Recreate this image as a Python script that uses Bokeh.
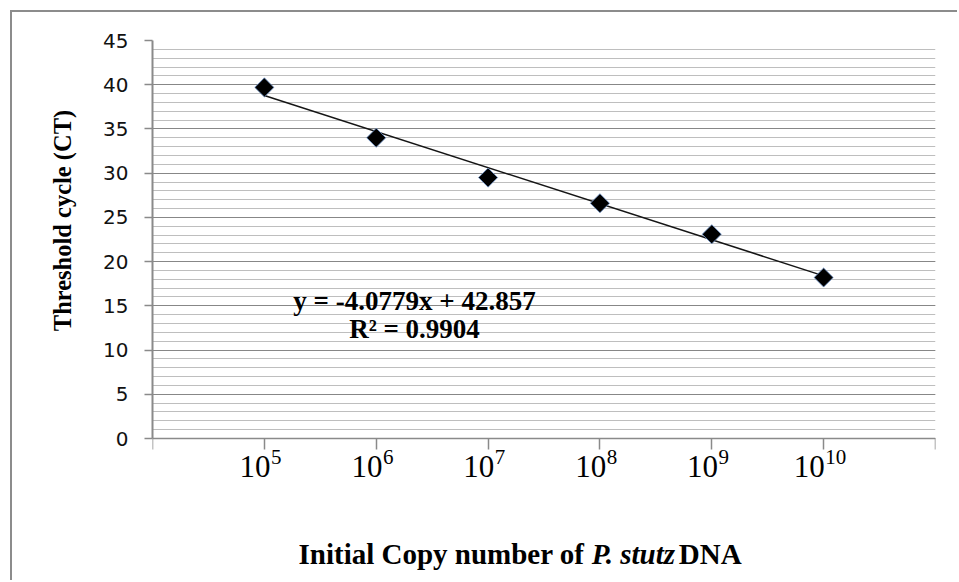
import numpy as np
from bokeh.plotting import figure
from bokeh.models import (Range1d, SingleIntervalTicker, FixedTicker, Label, LabelSet,
                          ColumnDataSource)
from bokeh.embed import file_html
from bokeh.resources import INLINE

# Initial copy number (powers of ten) and measured threshold cycles
exponents = [5, 6, 7, 8, 9, 10]
ct_values = [39.7, 34.0, 29.5, 26.6, 23.1, 18.2]

# Linear trendline on the category index (1..6)
slope = -4.0779
intercept = 42.857
r_squared = 0.9904

y_tick_step = 5
y_max = 45

# Page geometry (pixels on the page)
PAGE_W, PAGE_H = 959, 582
OFFSET = 12                       # chart border margin at left/top
LEFT, RIGHT, TOP, ZERO_ROW = 152, 935, 40, 438
FRAME_BOTTOM = 571                # frame runs below the x axis to hold its labels
X_MAX = 7

PX_PER_X = (RIGHT - LEFT) / X_MAX
PX_PER_Y = (ZERO_ROW - TOP) / y_max


def dx(px):
    """Page pixel column -> data x."""
    return (px - LEFT) / PX_PER_X


def dy(py):
    """Page pixel row -> data y."""
    return (ZERO_ROW - py) / PX_PER_Y


SERIF = "Liberation Serif"
GRID_MAJOR = "#878787"
GRID_MINOR = "#bebebe"
AXIS = "#8a8a8a"

p = figure(width=PAGE_W - OFFSET, height=PAGE_H - OFFSET,
           output_backend="svg", toolbar_location=None,
           x_range=Range1d(0, X_MAX), y_range=Range1d(dy(FRAME_BOTTOM), y_max),
           min_border_left=LEFT - OFFSET, min_border_right=PAGE_W - RIGHT,
           min_border_top=TOP - OFFSET, min_border_bottom=PAGE_H - FRAME_BOTTOM)
p.outline_line_color = None
p.background_fill_color = "white"
p.border_fill_color = "white"
# thin grey chart-area edge on the left and top
p.styles = {"margin-left": f"{OFFSET}px", "margin-top": f"{OFFSET}px",
            "box-shadow": "-2px -2px 0 0 #8c8c8c"}

# y axis and horizontal grid (major every 5, minor every 1), limited to 0..45
yticker = SingleIntervalTicker(interval=y_tick_step, num_minor_ticks=5)
p.yaxis.ticker = yticker
p.yaxis.bounds = (0, y_max)
p.ygrid.ticker = yticker
p.ygrid.bounds = (0, y_max)
p.ygrid.grid_line_color = GRID_MAJOR
p.ygrid.grid_line_width = 1
p.ygrid.minor_grid_line_color = GRID_MINOR
p.ygrid.minor_grid_line_width = 1
p.xgrid.grid_line_color = None

p.yaxis.axis_line_color = AXIS
p.yaxis.axis_line_width = 2
p.yaxis.major_tick_line_color = AXIS
p.yaxis.major_tick_line_width = 1.5
p.yaxis.major_tick_out = 8
p.yaxis.major_tick_in = 0
p.yaxis.minor_tick_line_color = None
p.yaxis.major_label_standoff = 16
p.yaxis.major_label_text_font = "DejaVu Sans"
p.yaxis.major_label_text_font_size = "20px"
p.yaxis.major_label_text_color = "#111111"

# x axis sits at y = 0, one tick per category slot; 10^n labels drawn below it
idx = np.arange(1, len(exponents) + 1)
n_slots = len(exponents) + 2
p.xaxis.fixed_location = 0
p.xaxis.ticker = FixedTicker(ticks=list(range(n_slots)))
p.xaxis.major_label_overrides = {i: "" for i in range(n_slots)}
p.xaxis.major_label_text_font_size = "1px"
p.xaxis.major_label_standoff = 0
p.xaxis.axis_line_color = AXIS
p.xaxis.axis_line_width = 1.5
p.xaxis.major_tick_line_color = AXIS
p.xaxis.major_tick_line_width = 1.5
p.xaxis.major_tick_out = 11
p.xaxis.major_tick_in = 0
p.xaxis.minor_tick_line_color = None

# trendline from the fitted coefficients
x_fit = np.array([idx[0], idx[-1]], dtype=float)
p.line(x_fit, slope * x_fit + intercept, line_color="#151515", line_width=1.5)

# data points as diamonds
p.scatter(idx, ct_values, marker="square", angle=np.pi / 4, size=13.5,
          fill_color="black", line_color="#6d93c9", line_width=0.8)

# 10^n tick labels: base "10" and a raised exponent
BASE_SIZE, EXP_SIZE = 31, 21
exp_text = [str(e) for e in exponents]
group_w = [BASE_SIZE + 0.5 * EXP_SIZE * len(t) for t in exp_text]
base_dx = [BASE_SIZE - w / 2 - 4 for w in group_w]     # right edge of "10"
tick_src = ColumnDataSource(dict(x=idx, base=["10"] * len(idx), exp=exp_text,
                                 base_dx=base_dx, exp_dx=[d + 0.5 for d in base_dx]))
p.add_layout(LabelSet(x="x", y=dy(476), text="base", source=tick_src,
                      x_offset="base_dx", text_align="right", text_baseline="alphabetic",
                      text_font=SERIF, text_font_size=f"{BASE_SIZE}px", text_color="black"))
p.add_layout(LabelSet(x="x", y=dy(463), text="exp", source=tick_src,
                      x_offset="exp_dx", text_align="left", text_baseline="alphabetic",
                      text_font=SERIF, text_font_size=f"{EXP_SIZE}px", text_color="black"))

# regression equation
EQ_SIZE = "27px"
p.add_layout(Label(x=dx(414), y=dy(300), text=f"y = {slope}x + {intercept}",
                   text_align="center", text_baseline="alphabetic", text_font=SERIF,
                   text_font_style="bold", text_font_size=EQ_SIZE, text_color="black"))
p.add_layout(Label(x=dx(414), y=dy(328), text=f"R\u00b2 = {r_squared}",
                   text_align="center", text_baseline="alphabetic", text_font=SERIF,
                   text_font_style="bold", text_font_size=EQ_SIZE, text_color="black"))

# axis titles
p.add_layout(Label(x=dx(62), y=dy(220), text="Threshold cycle (CT)",
                   angle=np.pi / 2, text_align="center", text_baseline="alphabetic",
                   text_font=SERIF, text_font_style="bold", text_font_size="24.5px",
                   text_color="black"), "left")

TITLE_SIZE = 29
title_left = 298
left_w = 10.112 * TITLE_SIZE        # "Initial Copy number of " advance width
italic_w = 3.0 * TITLE_SIZE         # "P. stutz" advance width
title_base = dy(553)
p.add_layout(Label(x=dx(title_left), y=title_base, text="Initial Copy number of ",
                   text_align="left", text_baseline="alphabetic", text_font=SERIF,
                   text_font_style="bold", text_font_size=f"{TITLE_SIZE}px",
                   text_color="black"))
p.add_layout(Label(x=dx(title_left + left_w), y=title_base, text="P. stutz",
                   text_align="left", text_baseline="alphabetic", text_font=SERIF,
                   text_font_style="bold italic", text_font_size=f"{TITLE_SIZE}px",
                   text_color="black"))
p.add_layout(Label(x=dx(title_left + left_w + italic_w), y=title_base, text=" DNA",
                   text_align="left", text_baseline="alphabetic", text_font=SERIF,
                   text_font_style="bold", text_font_size=f"{TITLE_SIZE}px",
                   text_color="black"))

open("out.html", "w").write(file_html(p, INLINE))
